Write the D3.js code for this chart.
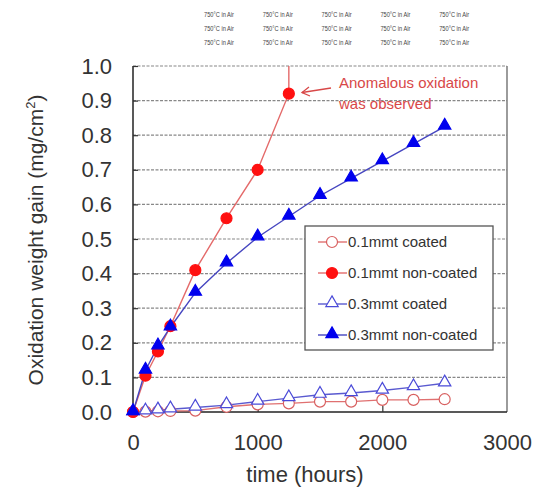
<!DOCTYPE html>
<html>
<head>
<meta charset="utf-8">
<script src="https://cdn.jsdelivr.net/npm/d3@7"></script>
<style>
  body { margin: 0; background: #fff; }
  svg { display: block; font-family: "Liberation Sans", Arial, sans-serif; }
</style>
</head>
<body>
<svg id="chart" width="541" height="489"></svg>
<script>
// measured hours and weight gain (mg/cm2)
const hours = [0, 100, 200, 300, 500, 750, 1000, 1250, 1500, 1750, 2000, 2250, 2500];
const coated01 = [0, 0.001, 0.002, 0.003, 0.004, 0.015, 0.022, 0.025, 0.03, 0.03, 0.035, 0.035, 0.037];
const nonCoated01Hours = [0, 100, 200, 300, 500, 750, 1000, 1250, 1250];
const nonCoated01 = [0, 0.105, 0.175, 0.248, 0.41, 0.56, 0.70, 0.92, 1.6];
const coated03 = [0, 0.002, 0.005, 0.008, 0.013, 0.02, 0.03, 0.04, 0.05, 0.055, 0.062, 0.072, 0.083];
const nonCoated03 = [0, 0.12, 0.19, 0.245, 0.345, 0.43, 0.505, 0.565, 0.625, 0.675, 0.725, 0.775, 0.825];

const xTicks = [0, 1000, 2000, 3000];
const yTicks = [0, 0.1, 0.2, 0.3, 0.4, 0.5, 0.6, 0.7, 0.8, 0.9, 1.0];
const legendLabels = ["0.1mmt coated", "0.1mmt non-coated", "0.3mmt coated", "0.3mmt non-coated"];
const headerText = "750°C in Air";

const svg = d3.select("#chart");
const plotLeft = 133, plotRight = 507, plotTop = 66, plotBottom = 412;

const x = d3.scaleLinear().domain([0, 3000]).range([plotLeft, plotRight]);
const y = d3.scaleLinear().domain([0, 1]).range([plotBottom, plotTop]);

// header stamps
for (let r = 0; r < 3; r++) {
  for (let c = 0; c < 5; c++) {
    svg.append("text")
      .attr("x", 204 + c * 58.8)
      .attr("y", 17 + r * 14.2)
      .attr("font-size", 7)
      .attr("textLength", 30)
      .attr("lengthAdjust", "spacingAndGlyphs")
      .attr("fill", "#444")
      .text(headerText);
  }
}

// gridlines
svg.append("g").selectAll("line")
  .data(yTicks.filter(d => d > 0))
  .join("line")
  .attr("x1", plotLeft).attr("x2", plotRight)
  .attr("y1", d => y(d)).attr("y2", d => y(d))
  .attr("stroke", "#888")
  .attr("stroke-width", 1.2)
  .attr("stroke-dasharray", "3,1.5");

// frame
svg.append("line").attr("x1", plotRight).attr("x2", plotRight).attr("y1", plotTop).attr("y2", plotBottom)
  .attr("stroke", "#666").attr("stroke-width", 1.3);
svg.append("line").attr("x1", plotLeft).attr("x2", plotRight).attr("y1", plotBottom).attr("y2", plotBottom)
  .attr("stroke", "#222").attr("stroke-width", 1.5);
svg.append("line").attr("x1", plotLeft).attr("x2", plotLeft).attr("y1", plotTop).attr("y2", plotBottom)
  .attr("stroke", "#222").attr("stroke-width", 1.5);

// axes, ticks inside
const xAxis = svg.append("g").attr("transform", `translate(0,${plotBottom})`)
  .call(d3.axisBottom(x).tickValues(xTicks).tickSize(-6).tickPadding(22).tickFormat(d3.format("d")));
const yAxis = svg.append("g").attr("transform", `translate(${plotLeft},0)`)
  .call(d3.axisLeft(y).tickValues(yTicks).tickSize(-5).tickPadding(21).tickFormat(d3.format(".1f")));
[xAxis, yAxis].forEach(g => {
  g.select(".domain").remove();
  g.selectAll(".tick line").attr("stroke", "#333").attr("stroke-width", 1.2);
  g.selectAll("text").attr("font-size", 22).attr("fill", "#333").attr("font-family", "Liberation Sans, Arial, sans-serif");
});
xAxis.selectAll(".tick").filter(d => d === 0 || d === 3000).select("line").remove();

// axis titles
svg.append("text")
  .attr("x", 305).attr("y", 482)
  .attr("text-anchor", "middle").attr("font-size", 22).attr("fill", "#333")
  .text("time (hours)");
const yTitle = svg.append("text")
  .attr("transform", "translate(43,240) rotate(-90)")
  .attr("text-anchor", "middle").attr("font-size", 21).attr("fill", "#333");
yTitle.append("tspan").text("Oxidation weight gain (mg/cm");
yTitle.append("tspan").attr("font-size", 13).attr("dy", -8).text("2");
yTitle.append("tspan").attr("dy", 8).text(")");

svg.append("clipPath").attr("id", "plotClip")
  .append("rect").attr("x", plotLeft - 10).attr("y", plotTop).attr("width", plotRight - plotLeft + 10).attr("height", plotBottom - plotTop + 10);

const series = [
  { xs: hours, ys: coated01, line: "#e07070", stroke: "#d86060", fill: "#fff", shape: "circle" },
  { xs: nonCoated01Hours, ys: nonCoated01, line: "#e46a6a", stroke: "#ff1010", fill: "#ff1010", shape: "circle" },
  { xs: hours, ys: coated03, line: "#5a5ad0", stroke: "#4a4ad8", fill: "#fff", shape: "triangle" },
  { xs: hours, ys: nonCoated03, line: "#4646c0", stroke: "#0000ee", fill: "#0000ee", shape: "triangle" }
];

const circleSym = d3.symbol().type(d3.symbolCircle).size(95);
const triSym = d3.symbol().type(d3.symbolTriangle).size(66);

const plot = svg.append("g").attr("clip-path", "url(#plotClip)");
series.forEach(s => {
  const pts = s.xs.map((h, i) => [h, s.ys[i]]);
  plot.append("path")
    .datum(pts)
    .attr("fill", "none")
    .attr("stroke", s.line)
    .attr("stroke-width", 1.4)
    .attr("d", d3.line().x(d => x(d[0])).y(d => y(d[1])));
});
series.forEach(s => {
  const pts = s.xs.map((h, i) => [h, s.ys[i]]).filter(d => d[1] <= 1);
  plot.append("g").selectAll("path")
    .data(pts)
    .join("path")
    .attr("transform", d => `translate(${x(d[0])},${y(d[1]) + (s.shape === "triangle" ? -1 : 0)})`)
    .attr("d", s.shape === "circle" ? circleSym() : triSym())
    .attr("fill", s.fill)
    .attr("stroke", s.stroke)
    .attr("stroke-width", 1.2);
});

// annotation
svg.append("text").attr("x", 339).attr("y", 88).attr("font-size", 15).attr("fill", "#d84848")
  .text("Anomalous oxidation");
svg.append("text").attr("x", 339).attr("y", 109).attr("font-size", 15).attr("fill", "#d84848")
  .text("was observed");
svg.append("line").attr("x1", 331).attr("y1", 88).attr("x2", 302).attr("y2", 92.5)
  .attr("stroke", "#d84848").attr("stroke-width", 1.3);
svg.append("path").attr("d", "M309,87 L302,92.5 L310,96")
  .attr("fill", "none").attr("stroke", "#d84848").attr("stroke-width", 1.3);

// legend
const lg = svg.append("g");
lg.append("rect").attr("x", 305).attr("y", 226).attr("width", 188).attr("height", 124)
  .attr("fill", "#fff").attr("stroke", "#555").attr("stroke-width", 1.3);
legendLabels.forEach((label, i) => {
  const s = series[i];
  const yy = 242 + i * 31;
  lg.append("line").attr("x1", 318).attr("x2", 347).attr("y1", yy).attr("y2", yy)
    .attr("stroke", s.line).attr("stroke-width", 1.4);
  lg.append("path")
    .attr("transform", `translate(332,${yy + (s.shape === "triangle" ? -1 : 0)})`)
    .attr("d", s.shape === "circle" ? circleSym() : triSym())
    .attr("fill", s.fill).attr("stroke", s.stroke).attr("stroke-width", 1.2);
  lg.append("text").attr("x", 348).attr("y", yy + 5).attr("font-size", 15).attr("fill", "#333")
    .text(label);
});
</script>
</body>
</html>
